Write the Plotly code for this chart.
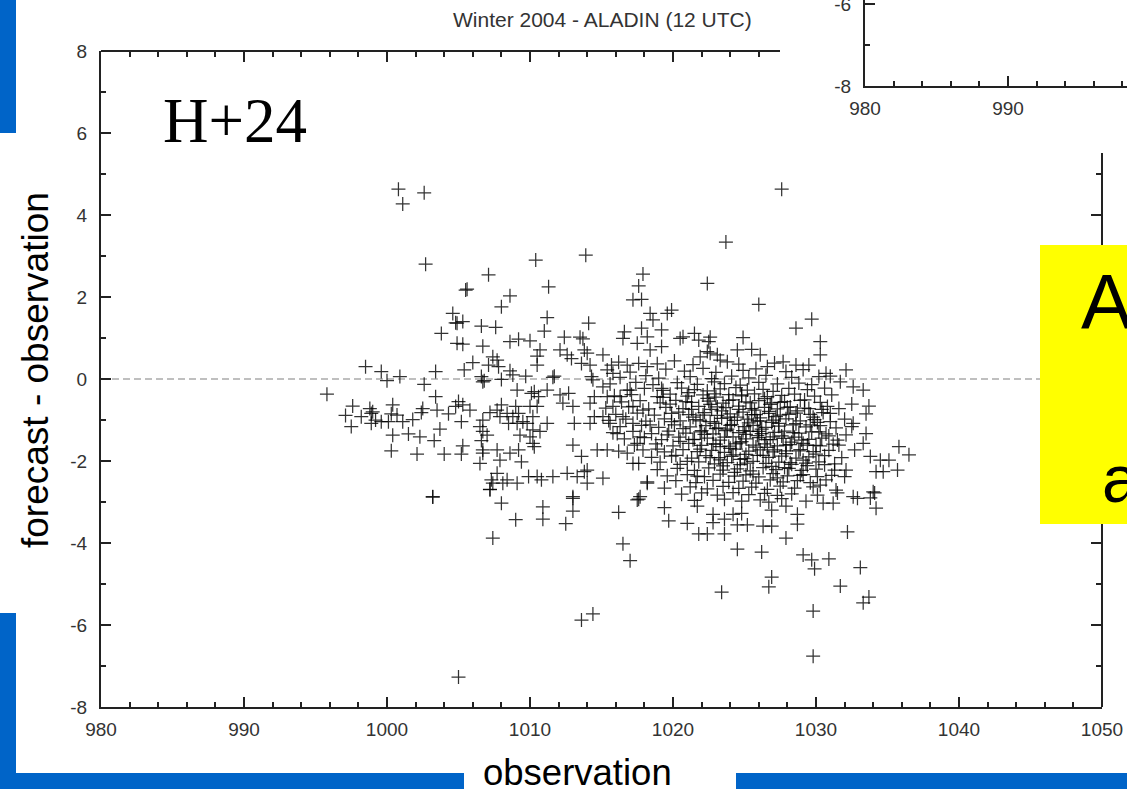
import plotly.graph_objects as go

W, H = 1127, 789

# ---------------- data ----------------
x_tick_vals = [980, 990, 1000, 1010, 1020, 1030, 1040, 1050]
x_tick_text = ["980", "990", "1000", "1010", "1020", "1030", "1040", "1050"]
y_tick_vals = [-8, -6, -4, -2, 0, 2, 4, 6, 8]
y_tick_text = ["-8", "-6", "-4", "-2", "0", "2", "4", "6", "8"]

inset_x_tick_vals = [980, 990]
inset_x_tick_text = ["980", "990"]
inset_y_tick_vals = [-8, -6]
inset_y_tick_text = ["-8", "-6"]

# sparse / outlying points (observation, forecast - observation)
points_upper = [
    (1000.8, 4.63), (1001.1, 4.27), (1002.6, 4.54), (1027.6, 4.63), (1023.7, 3.34),
    (1010.4, 2.9), (1013.9, 3.02), (1002.7, 2.8), (1007.1, 2.54), (1005.5, 2.17),
    (1005.6, 2.19), (1008.6, 2.03), (1011.3, 2.25), (1008.0, 1.76), (1004.6, 1.6),
    (1004.8, 1.37), (1004.9, 1.36), (1005.3, 1.4), (1011.2, 1.5), (1014.1, 1.36),
    (1003.8, 1.11), (1006.6, 1.29), (1007.6, 1.26), (1011.0, 1.17), (1004.9, 0.87),
    (1005.3, 0.85), (1006.7, 0.8), (1008.6, 0.91), (1009.2, 0.97), (1010.0, 0.93),
    (1012.4, 1.02), (1013.5, 1.02), (1013.7, 0.98), (1010.7, 0.71), (1010.5, 0.56),
    (1010.5, 0.34), (1012.1, 0.71), (1012.6, 0.59), (1012.9, 0.5), (1013.8, 0.71),
    (1014.0, 0.63), (1013.6, 0.38), (1014.2, 0.34), (1007.4, 0.54), (1007.7, 0.46),
    (1007.8, 0.3), (1006.0, 0.4), (1007.1, 0.34), (1005.4, 0.22), (1003.4, 0.18),
    (998.5, 0.3), (999.6, 0.18), (1000.0, -0.04), (1000.9, 0.06), (1002.6, -0.13),
    (1006.6, 0.06), (1006.7, -0.07), (1006.8, -0.04), (1008.0, -0.01), (1008.6, 0.2),
    (1008.8, 0.1), (1009.7, 0.07), (1011.6, 0.04), (1011.7, 0.07), (1014.3, 0.06),
    (1014.4, -0.02), (995.8, -0.37),
    (1017.9, 2.56), (1017.6, 2.27), (1017.2, 1.93), (1017.8, 1.94), (1022.4, 2.33),
    (1026.0, 1.82), (1029.7, 1.46), (1028.6, 1.24), (1030.3, 0.91), (1030.3, 0.59),
    (1032.1, 0.22), (1030.7, 0.14), (1031.0, 0.07), (1031.7, -0.07), (1032.6, -0.19),
    (1033.3, -0.27), (1019.6, 1.6), (1019.9, 1.68), (1019.2, 1.2), (1018.4, 1.6),
    (1018.6, 1.44), (1018.2, 1.03), (1016.6, 1.15), (1016.5, 0.99), (1017.8, 1.24),
    (1017.5, 0.87), (1018.4, 0.71), (1019.2, 0.79), (1020.5, 0.99), (1020.7, 1.03),
    (1021.5, 1.11), (1021.8, 0.95), (1022.6, 1.02), (1022.5, 0.91), (1024.9, 1.01),
    (1025.5, 0.72), (1026.1, 0.59), (1024.5, 0.71), (1023.1, 0.59), (1022.4, 0.67),
    (1023.3, 0.46), (1021.9, 0.54), (1022.6, 0.63), (1027.7, 0.42), (1028.6, 0.34),
    (1029.5, 0.34), (1026.6, 0.3), (1015.1, 0.59), (1015.7, 0.34), (1015.8, 0.14),
    (1016.8, 0.34), (1017.6, 0.38), (1018.2, 0.3),
]

points_right = [
    (1032.5, -0.61), (1033.7, -0.66), (1033.5, -0.85), (1032.6, -1.08), (1032.5, -1.16),
    (1033.5, -1.33), (1033.3, -1.57), (1032.7, -1.73), (1033.8, -1.89), (1034.5, -1.98),
    (1035.1, -1.98), (1035.8, -1.65), (1034.2, -2.26), (1034.7, -2.26), (1035.7, -2.22),
    (1032.1, -2.22), (1032.0, -2.38), (1031.4, -2.71), (1030.7, -2.46), (1030.3, -2.59),
    (1032.6, -2.87), (1034.0, -2.75), (1036.5, -1.85),
]

points_left = [
    (997.6, -0.66), (997.1, -0.89), (997.5, -1.16), (998.2, -0.92), (998.8, -0.72),
    (998.9, -1.08), (998.9, -0.84), (999.2, -1.0), (999.0, -0.8), (999.6, -1.04),
    (1000.1, -1.04), (1000.4, -0.63), (1000.3, -0.85), (1000.4, -1.37), (1000.3, -1.75),
    (1000.7, -0.88), (1001.1, -1.04), (1001.8, -0.99), (1001.5, -1.34), (1002.3, -1.41),
    (1002.1, -1.83), (1002.5, -0.72), (1002.4, -0.82), (1003.4, -0.43), (1003.3, -1.5),
    (1003.7, -1.22), (1004.0, -1.83), (1003.5, -0.76), (1004.3, -0.85), (1004.8, -0.67),
    (1005.0, -0.55), (1005.3, -0.63), (1005.8, -0.76), (1005.2, -1.04), (1005.3, -1.63),
    (1005.2, -1.83), (1003.2, -2.87),
    (1006.5, -1.16), (1006.7, -1.0), (1006.7, -1.28), (1007.0, -1.37), (1006.6, -1.5),
    (1006.7, -1.73), (1006.5, -2.06), (1006.7, -1.81), (1007.2, -0.82), (1007.7, -0.76),
    (1008.0, -0.63), (1008.4, -0.84), (1007.9, -0.92), (1008.5, -1.08), (1008.8, -0.92),
    (1009.1, -1.08), (1007.7, -1.73), (1007.9, -1.98), (1008.6, -1.81), (1009.2, -1.73),
    (1009.4, -2.02), (1009.3, -1.37), (1009.5, -1.04), (1010.0, -1.41), (1010.2, -1.57),
    (1010.3, -1.65), (1007.7, -2.3), (1008.4, -2.46), (1007.3, -2.46), (1007.4, -2.54),
    (1007.2, -2.69), (1008.1, -2.54), (1009.1, -2.54), (1009.9, -2.38), (1010.5, -2.38),
    (1010.8, -2.46), (1011.6, -2.38), (1012.6, -2.3), (1013.3, -2.38), (1013.8, -2.26),
    (1014.0, -2.54), (1013.0, -2.87),
    (1010.1, -0.35), (1010.3, -0.31), (1010.6, -0.43), (1011.2, -0.27), (1012.1, -0.39),
    (1012.7, -0.35), (1012.3, -0.59), (1013.0, -0.67), (1013.1, -1.08), (1013.0, -1.61),
    (1013.6, -1.89), (1014.2, -1.08), (1014.7, -1.73), (1014.0, -2.22), (1014.5, -0.92),
    (1014.2, -0.59), (1014.5, -0.43), (1009.1, -0.27), (1009.0, -0.67), (1009.2, -0.84),
    (1009.8, -1.08), (1010.2, -1.24), (1010.7, -1.28), (1011.2, -1.08), (1010.0, -0.67),
    (1010.2, -0.92), (1010.5, -0.67),
    (1015.1, -0.19), (1015.4, -0.43), (1015.8, -0.67), (1016.3, -0.43), (1017.0, -0.27),
    (1017.2, -0.67), (1015.1, -0.92), (1015.6, -1.08), (1016.1, -1.33), (1016.5, -0.92),
    (1017.2, -1.08), (1017.9, -0.76), (1017.7, -1.41), (1017.5, -1.57), (1015.4, -1.73),
    (1016.8, -1.81), (1017.2, -2.06), (1015.1, -2.42), (1018.2, -2.54), (1017.7, -2.87),
]

points_lower = [
    (1003.2, -2.88), (1008.0, -3.03), (1007.2, -2.7), (1010.9, -3.12), (1010.9, -3.42),
    (1009.0, -3.43), (1012.5, -3.53), (1013.0, -2.91), (1013.0, -3.22), (1007.4, -3.88),
    (1016.2, -3.25), (1016.5, -4.02), (1017.0, -4.43), (1013.6, -5.88), (1014.4, -5.73),
    (1005.0, -7.27), (1017.6, -2.93), (1017.5, -2.95), (1019.4, -3.14), (1019.7, -3.46),
    (1021.0, -3.52), (1021.7, -3.1), (1021.8, -3.78), (1022.4, -3.78), (1022.8, -3.3),
    (1022.8, -3.5), (1023.6, -3.42), (1023.6, -3.78), (1023.4, -5.2), (1024.2, -3.3),
    (1024.8, -3.28), (1024.5, -3.56), (1025.2, -3.56), (1024.5, -4.15), (1026.2, -4.22),
    (1026.3, -3.59), (1026.9, -3.59), (1026.7, -3.0), (1026.9, -3.2), (1026.9, -4.83),
    (1026.7, -5.07), (1027.9, -3.1), (1027.9, -3.88), (1028.7, -3.3), (1028.7, -3.54),
    (1029.3, -2.98), (1029.1, -4.29), (1029.7, -4.41), (1029.9, -4.63), (1029.8, -5.66),
    (1029.8, -6.76), (1030.1, -2.83), (1030.5, -3.03), (1031.2, -3.03), (1030.9, -4.39),
    (1031.5, -2.78), (1031.7, -5.05), (1032.2, -3.73), (1032.9, -2.91), (1033.1, -4.6),
    (1033.3, -5.46), (1033.7, -5.32), (1033.8, -2.9), (1034.1, -2.78), (1034.2, -3.15),
]

points_dense = [
    (1016.2, 0.41), (1018.9, 0.37), (1020.1, 0.44), (1021.4, 0.35), (1023.8, 0.42), (1024.6, 0.36), (1027.1, 0.39),
    (1015.4, 0.22), (1017.0, 0.17), (1019.5, 0.24), (1020.8, 0.19), (1022.1, 0.26), (1023.0, 0.16), (1024.9, 0.21),
    (1025.8, 0.25), (1027.9, 0.18), (1029.1, 0.23),
    (1016.3, 0.04), (1018.1, 0.08), (1019.0, 0.02), (1021.2, 0.06), (1022.7, 0.01), (1024.1, 0.07), (1025.3, 0.03),
    (1026.5, 0.09), (1028.3, 0.04), (1030.2, 0.06),
    (1015.6, -0.12), (1017.4, -0.08), (1018.6, -0.14), (1020.3, -0.09), (1021.7, -0.13), (1022.9, -0.07), (1023.6, -0.11),
    (1024.7, -0.15), (1026.0, -0.08), (1027.3, -0.12), (1028.8, -0.1), (1029.7, -0.14),
    (1016.8, -0.27), (1018.0, -0.23), (1019.3, -0.28), (1020.6, -0.22), (1021.5, -0.26), (1022.4, -0.29), (1023.3, -0.24),
    (1024.4, -0.21), (1025.2, -0.27), (1026.3, -0.25), (1027.0, -0.3), (1028.1, -0.23), (1029.4, -0.26), (1030.6, -0.22),
    (1015.9, -0.41), (1017.1, -0.38), (1018.9, -0.43), (1019.8, -0.37), (1021.0, -0.42), (1022.1, -0.39), (1023.0, -0.44),
    (1023.9, -0.38), (1024.8, -0.41), (1025.7, -0.36), (1026.6, -0.43), (1027.6, -0.4), (1028.5, -0.37), (1029.9, -0.42),
    (1031.1, -0.39),
    (1016.4, -0.56), (1017.7, -0.53), (1019.1, -0.58), (1020.2, -0.52), (1021.3, -0.57), (1022.5, -0.54), (1023.5, -0.59),
    (1024.2, -0.51), (1025.1, -0.56), (1026.0, -0.53), (1026.9, -0.58), (1027.8, -0.55), (1028.9, -0.52), (1030.3, -0.57),
    (1015.3, -0.71), (1016.9, -0.68), (1018.3, -0.73), (1019.5, -0.69), (1020.7, -0.72), (1021.8, -0.67), (1022.7, -0.74),
    (1023.7, -0.7), (1024.6, -0.66), (1025.5, -0.72), (1026.4, -0.69), (1027.3, -0.73), (1028.2, -0.68), (1029.2, -0.71),
    (1030.8, -0.67), (1031.6, -0.72),
    (1016.0, -0.86), (1017.5, -0.83), (1018.7, -0.88), (1019.9, -0.84), (1021.1, -0.87), (1022.2, -0.82), (1023.1, -0.89),
    (1024.0, -0.85), (1024.9, -0.81), (1025.8, -0.87), (1026.7, -0.84), (1027.5, -0.88), (1028.6, -0.83), (1029.6, -0.86),
    (1030.5, -0.82),
    (1015.5, -1.01), (1016.7, -0.98), (1018.1, -1.03), (1019.4, -0.97), (1020.5, -1.02), (1021.6, -0.99), (1022.6, -1.04),
    (1023.4, -0.96), (1024.3, -1.01), (1025.2, -0.98), (1026.1, -1.03), (1027.0, -1.0), (1027.9, -0.97), (1028.9, -1.02),
    (1029.9, -0.99), (1031.0, -1.04), (1032.0, -0.98),
    (1016.3, -1.16), (1017.8, -1.13), (1019.0, -1.18), (1020.1, -1.12), (1021.2, -1.17), (1022.3, -1.14), (1023.2, -1.19),
    (1024.1, -1.11), (1025.0, -1.16), (1025.6, -1.13), (1026.5, -1.18), (1027.4, -1.15), (1028.4, -1.12), (1029.3, -1.17),
    (1030.3, -1.14), (1031.4, -1.19),
    (1015.8, -1.31), (1017.2, -1.28), (1018.5, -1.33), (1019.7, -1.27), (1020.9, -1.32), (1021.9, -1.29), (1022.8, -1.34),
    (1023.7, -1.26), (1024.6, -1.31), (1025.4, -1.28), (1026.2, -1.33), (1027.1, -1.3), (1027.8, -1.27), (1028.8, -1.32),
    (1029.7, -1.29), (1030.7, -1.34),
    (1016.6, -1.46), (1018.0, -1.43), (1019.2, -1.48), (1020.4, -1.42), (1021.5, -1.47), (1022.4, -1.44), (1023.3, -1.49),
    (1024.2, -1.41), (1025.1, -1.46), (1026.0, -1.43), (1026.8, -1.48), (1027.7, -1.45), (1028.5, -1.42), (1029.5, -1.47),
    (1030.4, -1.44), (1031.5, -1.49),
    (1017.3, -1.61), (1018.8, -1.58), (1020.0, -1.63), (1021.1, -1.57), (1022.0, -1.62), (1023.0, -1.59), (1023.9, -1.64),
    (1024.7, -1.56), (1025.6, -1.61), (1026.4, -1.58), (1027.3, -1.63), (1028.2, -1.6), (1029.1, -1.57), (1030.0, -1.62),
    (1031.2, -1.59),
    (1016.2, -1.76), (1017.9, -1.73), (1019.4, -1.78), (1020.7, -1.72), (1021.7, -1.77), (1022.7, -1.74), (1023.6, -1.79),
    (1024.4, -1.71), (1025.3, -1.76), (1026.1, -1.73), (1027.0, -1.78), (1027.9, -1.75), (1028.9, -1.72), (1029.8, -1.77),
    (1030.9, -1.74),
    (1018.5, -1.91), (1019.9, -1.88), (1021.3, -1.93), (1022.3, -1.87), (1023.2, -1.92), (1024.1, -1.89), (1025.0, -1.94),
    (1025.9, -1.86), (1026.7, -1.91), (1027.6, -1.88), (1028.6, -1.93), (1029.5, -1.9), (1030.6, -1.87), (1031.8, -1.92),
    (1017.6, -2.06), (1019.1, -2.03), (1020.5, -2.08), (1021.8, -2.02), (1022.9, -2.07), (1023.8, -2.04), (1024.7, -2.09),
    (1025.6, -2.01), (1026.5, -2.06), (1027.4, -2.03), (1028.3, -2.08), (1029.3, -2.05), (1030.2, -2.02), (1031.3, -2.07),
    (1018.9, -2.21), (1020.3, -2.18), (1021.5, -2.23), (1022.5, -2.17), (1023.5, -2.22), (1024.5, -2.19), (1025.4, -2.24),
    (1026.3, -2.16), (1027.2, -2.21), (1028.1, -2.18), (1029.0, -2.23), (1030.0, -2.2),
    (1019.6, -2.36), (1021.0, -2.33), (1022.2, -2.38), (1023.3, -2.32), (1024.3, -2.37), (1025.1, -2.34), (1026.0, -2.39),
    (1027.0, -2.31), (1028.0, -2.36), (1029.1, -2.33), (1030.1, -2.38), (1031.1, -2.35),
    (1018.2, -2.51), (1020.2, -2.48), (1021.6, -2.53), (1022.8, -2.47), (1023.9, -2.52), (1024.9, -2.49), (1025.8, -2.54),
    (1026.8, -2.46), (1027.7, -2.51), (1028.7, -2.48), (1029.6, -2.53),
    (1019.4, -2.66), (1021.2, -2.63), (1022.4, -2.68), (1023.5, -2.62), (1024.6, -2.67), (1025.5, -2.64), (1026.6, -2.69),
    (1027.5, -2.61), (1028.5, -2.66), (1029.8, -2.63),
    (1020.6, -2.81), (1022.0, -2.78), (1023.1, -2.83), (1024.2, -2.77), (1025.3, -2.82), (1026.4, -2.79), (1027.3, -2.84),
    (1028.3, -2.8),
    (1021.5, -2.96), (1023.6, -2.93), (1024.8, -2.98), (1026.1, -2.95), (1027.6, -2.92),
]

points_core = [
    (1022.6, -0.62), (1023.4, -0.78), (1024.5, -0.93), (1025.3, -1.07), (1026.2, -1.22), (1027.2, -0.92),
    (1025.9, -1.38), (1024.8, -1.53), (1023.8, -1.22), (1022.9, -1.08), (1026.6, -1.67), (1027.6, -1.39),
    (1028.3, -1.54), (1025.7, -0.76), (1024.0, -1.69), (1022.2, -1.35), (1021.4, -0.93), (1027.9, -1.82),
    (1026.9, -2.13), (1025.1, -1.84), (1023.3, -1.97), (1028.7, -0.78), (1029.4, -1.61), (1026.4, -0.48),
    (1020.7, -1.21), (1019.8, -0.61), (1024.3, -2.28), (1029.1, -1.98), (1021.9, -1.71), (1030.2, -1.29),
    (1019.3, -0.45), (1020.4, -0.81), (1021.1, -0.33), (1021.9, -1.02), (1022.4, -0.47), (1022.8, -1.58),
    (1023.1, -0.68), (1023.6, -1.42), (1023.9, -0.52), (1024.2, -1.85), (1024.6, -0.74), (1024.9, -1.26),
    (1025.2, -2.05), (1025.4, -0.58), (1025.8, -1.66), (1026.1, -0.95), (1026.5, -1.48), (1026.8, -0.62),
    (1027.1, -1.73), (1027.4, -1.08), (1027.8, -2.16), (1028.1, -0.86), (1028.4, -1.31), (1028.8, -1.75),
    (1029.2, -0.51), (1029.6, -1.12), (1030.0, -1.83), (1030.4, -0.74), (1030.9, -1.39), (1031.3, -2.22),
    (1019.6, -1.36), (1020.2, -1.86), (1020.9, -0.55), (1021.4, -1.48), (1021.7, -2.37), (1022.1, -0.88),
    (1022.6, -1.92), (1023.0, -1.21), (1023.5, -2.12), (1023.8, -0.93), (1024.4, -1.58), (1024.8, -0.39),
    (1025.1, -1.35), (1025.6, -2.32), (1025.9, -1.02), (1026.3, -1.86), (1026.7, -0.79), (1027.0, -1.41),
    (1027.5, -0.57), (1027.9, -1.61), (1028.2, -2.04), (1028.6, -1.09), (1029.0, -1.49), (1029.4, -2.11),
    (1029.8, -0.93), (1030.3, -1.63), (1030.6, -2.09), (1031.0, -0.84), (1031.6, -1.61), (1032.1, -1.36),
    (1018.4, -1.12), (1018.9, -1.71), (1019.2, -0.23), (1019.9, -1.04), (1020.5, -1.52), (1021.0, -2.01),
    (1021.3, -0.74), (1022.0, -1.26), (1022.9, -0.36), (1023.3, -1.65), (1024.0, -1.13), (1024.7, -1.96),
    (1025.5, -0.87), (1026.0, -1.28), (1026.9, -1.06), (1027.3, -2.41), (1028.0, -0.69), (1028.9, -2.35),
    (1029.5, -0.72), (1030.1, -1.06),
]

all_points = points_upper + points_right + points_left + points_lower + points_dense + points_core
obs = [p[0] for p in all_points]
err = [p[1] for p in all_points]


# ---------------- helpers for pixel placement of page furniture ----------------
def fx(px):
    return px / W


def fy(py):
    return 1 - py / H


AX = "#222222"
TICKFONT = dict(family="Liberation Sans, Arial, sans-serif", size=19, color="#333333")

fig = go.Figure()

fig.add_trace(go.Scatter(
    x=obs, y=err, mode="markers",
    marker=dict(symbol="cross-thin", size=10,
                line=dict(width=1.25, color="rgba(0,0,0,0.8)")),
    hoverinfo="skip", showlegend=False,
))
# carriers for the partial frame and for the inset chart
fig.add_trace(go.Scatter(x=[None], y=[None], xaxis="x3", yaxis="y3", showlegend=False, hoverinfo="skip"))
fig.add_trace(go.Scatter(x=[None], y=[None], xaxis="x4", yaxis="y4", showlegend=False, hoverinfo="skip"))

base_axis = dict(showline=True, linecolor=AX, linewidth=2, ticks="inside", ticklen=10,
                 tickwidth=1.5, tickcolor=AX, showgrid=False, zeroline=False,
                 tickfont=TICKFONT, automargin=False, ticklabeloverflow="allow")

minor_x = dict(tickmode="linear", tick0=980, dtick=2, ticks="inside", ticklen=5,
               tickwidth=1.5, tickcolor=AX, showgrid=False)
minor_y = dict(tickmode="linear", tick0=-8, dtick=1, ticks="inside", ticklen=5,
               tickwidth=1.5, tickcolor=AX, showgrid=False)

px_per_x = (1102 - 101) / 70
px_per_y = (707 - 51) / 16

fig.update_layout(
    width=W, height=H,
    margin=dict(l=0, r=0, t=0, b=0),
    paper_bgcolor="white", plot_bgcolor="rgba(0,0,0,0)",
    showlegend=False,
    xaxis=dict(base_axis, domain=[fx(101), fx(1102)], range=[980, 1050], anchor="y",
               tickmode="array", tickvals=x_tick_vals, ticktext=x_tick_text,
               ticklabelstandoff=4, minor=minor_x),
    yaxis=dict(base_axis, domain=[fy(707), fy(51)], range=[-8, 8], anchor="x",
               tickmode="array", tickvals=y_tick_vals, ticktext=y_tick_text,
               ticklabelstandoff=8, minor=minor_y),
    # top frame (visible part only)
    xaxis3=dict(base_axis, domain=[fx(101), fx(780)],
                range=[980, 980 + (780 - 101) / px_per_x],
                anchor="free", position=fy(51), side="top",
                tickmode="array", tickvals=x_tick_vals, showticklabels=False, minor=minor_x),
    # right frame (visible part only)
    yaxis3=dict(base_axis, domain=[fy(707), fy(153)],
                range=[-8, -8 + (707 - 153) / px_per_y],
                anchor="free", position=fx(1102), side="right",
                tickmode="array", tickvals=y_tick_vals, showticklabels=False, minor=minor_y),
    # inset: corner of a second, identical chart pasted on the slide
    xaxis4=dict(base_axis, domain=[fx(865), 1.0],
                range=[980, 980 + (W - 865) / px_per_x], anchor="y4",
                tickmode="array", tickvals=inset_x_tick_vals, ticktext=inset_x_tick_text,
                ticklabelstandoff=4, minor=minor_x),
    yaxis4=dict(base_axis, domain=[fy(86), 1.0],
                range=[-8, -8 + 86 / px_per_y], anchor="x4",
                tickmode="array", tickvals=inset_y_tick_vals, ticktext=inset_y_tick_text,
                ticklabelstandoff=8, minor=minor_y),
)

# dashed zero line
fig.add_shape(type="line", xref="x", yref="y", x0=980, x1=1050, y0=0, y1=0,
              line=dict(color="#aaaaaa", width=1.5, dash="7px,4px"), layer="below")

BLUE = "#0064C8"
for (x0, y0, x1, y1) in [(0, 0, 16, 133), (0, 613, 16, 789), (0, 773, 464, 789), (736, 773, W, 789)]:
    fig.add_shape(type="rect", xref="paper", yref="paper",
                  x0=fx(x0), x1=fx(x1), y0=fy(y1), y1=fy(y0),
                  line=dict(width=0), fillcolor=BLUE, layer="above")

# yellow callout box on the right
fig.add_shape(type="rect", xref="paper", yref="paper",
              x0=fx(1040), x1=1.0, y0=fy(524), y1=fy(245),
              line=dict(width=0), fillcolor="#FFFF00", layer="above")

ann = [
    dict(text="Winter 2004 - ALADIN (12 UTC)", x=fx(602), y=fy(20), xanchor="center", yanchor="middle",
         font=dict(family="Liberation Sans, Arial, sans-serif", size=21, color="#333333")),
    dict(text="H+24", x=fx(161), y=fy(121), xanchor="left", yanchor="middle",
         font=dict(family="Liberation Serif, Times New Roman, serif", size=63, color="black")),
    dict(text="forecast - observation", x=fx(36), y=fy(370), xanchor="center", yanchor="middle",
         textangle=-90, font=dict(family="Liberation Sans, Arial, sans-serif", size=37, color="black")),
    dict(text="observation", x=fx(577), y=fy(772), xanchor="center", yanchor="middle",
         font=dict(family="Liberation Sans, Arial, sans-serif", size=36.5, color="black")),
    dict(text="A", x=fx(1079), y=fy(302), xanchor="left", yanchor="middle",
         font=dict(family="Liberation Sans, Arial, sans-serif", size=77, color="black")),
    dict(text="a", x=fx(1100), y=fy(479), xanchor="left", yanchor="middle",
         font=dict(family="Liberation Sans, Arial, sans-serif", size=66, color="black")),
]
for a in ann:
    fig.add_annotation(xref="paper", yref="paper", showarrow=False, **a)

fig.write_html("out.html")
